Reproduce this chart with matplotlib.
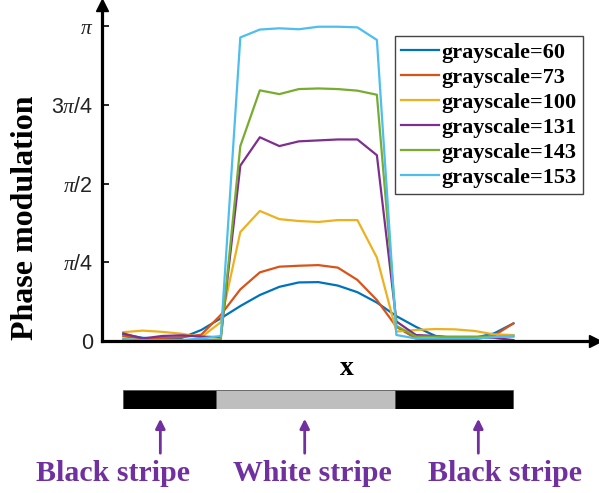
import numpy as np
import matplotlib
matplotlib.use("Agg")
import matplotlib.pyplot as plt
from matplotlib.patches import Rectangle, FancyArrowPatch

plt.rcParams["mathtext.fontset"] = "custom"
plt.rcParams["mathtext.it"] = "Liberation Serif:italic"
plt.rcParams["mathtext.rm"] = "Liberation Sans"

# Phase profiles across the stripe pattern (values in units of pi)
positions = list(range(21))
labels = ["grayscale=60", "grayscale=73", "grayscale=100",
          "grayscale=131", "grayscale=143", "grayscale=153"]
colors = ["#0072BD", "#D95319", "#EDB120", "#7E2F8E", "#77AC30", "#4DBEEE"]

gray60 = [0.021, 0.010, 0.008, 0.010, 0.035, 0.072, 0.111, 0.146, 0.172, 0.186, 0.187,
          0.176, 0.155, 0.122, 0.079, 0.045, 0.016, 0.008, 0.010, 0.024, 0.056]
gray73 = [0.015, 0.008, 0.010, 0.012, 0.020, 0.083, 0.164, 0.218, 0.236, 0.239, 0.241,
          0.233, 0.194, 0.130, 0.045, 0.008, 0.003, 0.003, 0.005, 0.017, 0.056]
gray100 = [0.028, 0.033, 0.029, 0.023, 0.012, 0.060, 0.346, 0.413, 0.387, 0.381, 0.378,
           0.384, 0.384, 0.265, 0.030, 0.035, 0.038, 0.037, 0.032, 0.021, 0.019]
gray131 = [0.024, 0.008, 0.016, 0.018, 0.014, 0.012, 0.557, 0.647, 0.619, 0.634, 0.637,
           0.640, 0.640, 0.590, 0.062, 0.019, 0.016, 0.010, 0.012, 0.010, 0.003]
gray143 = [0.006, 0.002, 0.002, 0.002, 0.003, 0.005, 0.619, 0.796, 0.784, 0.800, 0.802,
           0.800, 0.795, 0.782, 0.048, 0.014, 0.014, 0.014, 0.014, 0.014, 0.014]
gray153 = [0.005, 0.003, 0.003, 0.003, 0.008, 0.016, 0.964, 0.989, 0.993, 0.990, 0.998,
           0.998, 0.996, 0.956, 0.019, 0.008, 0.008, 0.008, 0.008, 0.012, 0.017]
series = [gray60, gray73, gray100, gray131, gray143, gray153]

yticks = [0, 0.25, 0.5, 0.75, 1.0]
ytick_labels = ["0", r"$\pi$/4", r"$\pi$/2", r"3$\pi$/4", r"$\pi$"]

# Stripe pattern shown under the plot
stripe_edges = [0, 4.75, 13.92, 20]
stripe_colors = ["black", "#BEBEBE", "black"]
stripe_names = ["Black stripe", "White stripe", "Black stripe"]
arrow_pos = [1.9, 9.3, 18.2]

W, H = 599, 493
fig = plt.figure(figsize=(W / 100, H / 100), dpi=100)

def fx(px):
    return px / W

def fy(py):
    return 1 - py / H

ax = fig.add_axes([fx(102), fy(341), fx(595) - fx(102), fy(5) - fy(341)])
for vals, c, lab in zip(series, colors, labels):
    ax.plot(positions, np.array(vals) * np.pi, color=c, lw=1.6, label=lab)

ax.set_xlim(-1.09, 24.18)
ax.set_ylim(0, 1.067 * np.pi)
ax.set_yticks(np.array(yticks) * np.pi)
ax.set_yticklabels(ytick_labels, fontfamily="Liberation Sans", fontsize=15.5, color="#222222")
ax.set_xticks([])
ax.tick_params(axis="y", direction="in", length=5, width=1.2, pad=6.5)
for s in ("top", "right"):
    ax.spines[s].set_visible(False)
for s in ("left", "bottom"):
    ax.spines[s].set_linewidth(2.3)
# arrowheads at the ends of the axes
ax.plot([0], [1], marker="^", color="k", ms=8, transform=ax.transAxes, clip_on=False)
ax.plot([1], [0], marker=">", color="k", ms=8, transform=ax.transAxes, clip_on=False)

leg = ax.legend(loc="upper left", bbox_to_anchor=(fx(395), fy(36)),
                bbox_transform=fig.transFigure,
                prop={"family": "Liberation Serif", "weight": "bold", "size": 16},
                handlelength=1.7, handletextpad=0.12, labelspacing=0.2,
                borderpad=0.27, borderaxespad=0, fancybox=False, framealpha=1)
leg.get_frame().set_edgecolor("#444444")
leg.get_frame().set_linewidth(1.0)

fig.text(fx(26), fy(218), "Phase modulation", rotation=90, ha="center", va="center",
         family="Liberation Serif", weight="bold", fontsize=23)
fig.text(fx(347), fy(375), "x", ha="center", va="baseline",
         family="Liberation Serif", weight="bold", fontsize=20)

# stripe bar
sax = fig.add_axes([fx(102), fy(409), fx(595) - fx(102), fy(390) - fy(409)])
sax.set_xlim(-1.09, 24.18)
sax.set_ylim(0, 1)
sax.axis("off")
for x0, x1, c in zip(stripe_edges[:-1], stripe_edges[1:], stripe_colors):
    sax.add_patch(Rectangle((x0, 0), x1 - x0, 1, facecolor=c, edgecolor="#555555", lw=0.6))

purple = "#7030A0"
label_x = [113, 312, 505]
for xp, name, lx in zip(arrow_pos, stripe_names, label_x):
    px = sax.transData.transform((xp, 0))[0]
    fig.add_artist(FancyArrowPatch(
        (px / W, fy(456)), (px / W, fy(416)), transform=fig.transFigure,
        arrowstyle="-|>", mutation_scale=14, color=purple, lw=2))
    fig.text(fx(lx), fy(481), name, ha="center", va="baseline", color=purple,
             family="Liberation Serif", weight="bold", fontsize=21.5)

fig.savefig("out.png", dpi=100)
